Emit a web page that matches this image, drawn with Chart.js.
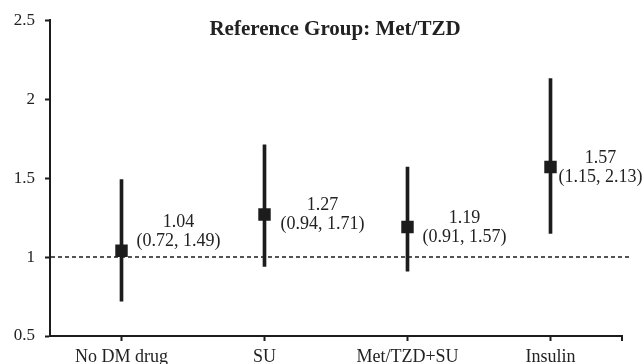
<!DOCTYPE html>
<html>
<head>
<meta charset="utf-8">
<script src="https://cdn.jsdelivr.net/npm/chart.js@4/dist/chart.umd.min.js"></script>
<style>
  html, body { margin: 0; padding: 0; background: #fff; }
  #wrap { width: 644px; height: 364px; }
</style>
</head>
<body>
<div id="wrap"><canvas id="c" width="644" height="364"></canvas></div>
<script>
const categories = ['No DM drug', 'SU', 'Met/TZD+SU', 'Insulin'];
const estimates = [1.04, 1.27, 1.19, 1.57];
const lowerCI = [0.72, 0.94, 0.91, 1.15];
const upperCI = [1.49, 1.71, 1.57, 2.13];
const yMin = 0.5;
const yMax = 2.5;
const yStep = 0.5;
const referenceValue = 1;
const titleText = 'Reference Group: Met/TZD';

const INK = '#1c1c1c';
const SERIF = "'Liberation Serif', 'Times New Roman', serif";
const labelOffsets = [
  { dx: 57, dy: -28 },
  { dx: 58, dy: -9 },
  { dx: 57, dy: -9 },
  { dx: 50, dy: -9 }
];

const decorPlugin = {
  id: 'decor',
  beforeDatasetsDraw(chart) {
    const { ctx, chartArea } = chart;
    const y = chart.scales.y.getPixelForValue(referenceValue);
    ctx.save();
    ctx.strokeStyle = INK;
    ctx.lineWidth = 1.5;
    ctx.setLineDash([4, 3]);
    ctx.beginPath();
    ctx.moveTo(chartArea.left + 1, y);
    ctx.lineTo(chartArea.right + 8, y);
    ctx.stroke();
    ctx.restore();
  },
  afterDatasetsDraw(chart) {
    const { ctx } = chart;
    const meta = chart.getDatasetMeta(0);
    ctx.save();
    ctx.fillStyle = '#222';
    ctx.font = '18px ' + SERIF;
    ctx.textAlign = 'center';
    ctx.textBaseline = 'middle';
    meta.data.forEach((pt, i) => {
      const off = labelOffsets[i];
      const x = pt.x + off.dx;
      const y = pt.y + off.dy;
      ctx.fillText(estimates[i].toFixed(2), x, y);
      ctx.fillText('(' + lowerCI[i].toFixed(2) + ', ' + upperCI[i].toFixed(2) + ')', x, y + 19);
    });
    ctx.restore();
  },
  afterDraw(chart) {
    const { ctx, chartArea } = chart;
    ctx.save();
    ctx.strokeStyle = INK;
    ctx.lineWidth = 2;
    ctx.beginPath();
    ctx.moveTo(chartArea.right, chartArea.bottom);
    ctx.lineTo(chartArea.right, chartArea.bottom + 5);
    ctx.stroke();
    ctx.fillStyle = '#222';
    ctx.font = 'bold 21px ' + SERIF;
    ctx.textAlign = 'center';
    ctx.textBaseline = 'middle';
    ctx.fillText(titleText, 335, 30);
    ctx.restore();
  }
};

new Chart(document.getElementById('c'), {
  data: {
    labels: categories,
    datasets: [
      {
        type: 'line',
        data: estimates,
        showLine: false,
        pointStyle: 'rect',
        pointRadius: 8.8,
        pointHoverRadius: 8.8,
        pointBackgroundColor: INK,
        pointBorderWidth: 0,
        borderWidth: 0,
        order: 0
      },
      {
        type: 'bar',
        data: lowerCI.map((l, i) => [l, upperCI[i]]),
        backgroundColor: INK,
        barThickness: 3,
        borderSkipped: false,
        order: 1
      }
    ]
  },
  options: {
    responsive: false,
    animation: false,
    events: [],
    layout: { padding: { top: 19, right: 22, left: 0, bottom: 0 } },
    plugins: {
      legend: { display: false },
      tooltip: { enabled: false },
      title: { display: false }
    },
    scales: {
      x: {
        type: 'category',
        offset: true,
        grid: {
          offset: false,
          drawOnChartArea: false,
          drawTicks: true,
          tickLength: 5,
          tickWidth: 2,
          tickColor: INK
        },
        border: { display: true, color: INK, width: 2 },
        ticks: {
          color: '#222',
          font: { family: SERIF, size: 18 },
          padding: 5,
          maxRotation: 0,
          autoSkip: false
        },
        afterFit(scale) { scale.height = 28; }
      },
      y: {
        type: 'linear',
        min: yMin,
        max: yMax,
        grid: {
          drawOnChartArea: false,
          drawTicks: true,
          tickLength: 5,
          tickWidth: 2,
          tickColor: INK
        },
        border: { display: true, color: INK, width: 2 },
        ticks: {
          stepSize: yStep,
          color: '#222',
          font: { family: SERIF, size: 17 },
          padding: 10,
          callback: (v) => String(v)
        },
        afterFit(scale) { scale.width = 50; }
      }
    }
  },
  plugins: [decorPlugin]
});
</script>
</body>
</html>
